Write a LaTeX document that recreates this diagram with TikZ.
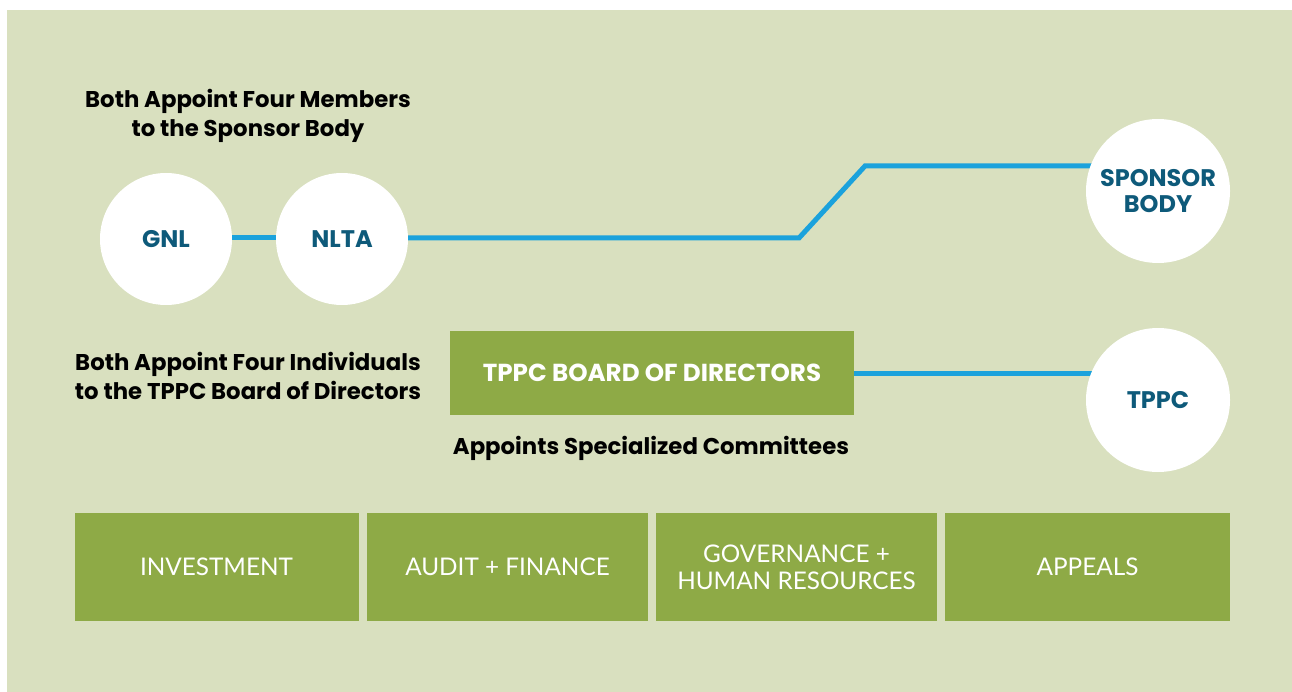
\documentclass[tikz,border=0pt]{standalone}
\usepackage{fontspec}
\setmainfont{Poppins}
\newfontfamily\lightfont{Lato}
\definecolor{bgc}{HTML}{D9E0BF}
\definecolor{boxg}{HTML}{8EAA46}
\definecolor{lineb}{HTML}{1BA2DC}
\definecolor{navy}{HTML}{0E5A7A}
\pgfdeclarelayer{back}
\pgfdeclarelayer{lines}
\pgfsetlayers{back,lines,main}
\begin{document}
\begin{tikzpicture}[x=1pt,y=-1pt,
  circ/.style={circle,fill=white,inner sep=0pt,minimum size=#1,font=\bfseries\fontsize{24}{26}\selectfont,text=navy,align=center},
  label/.style={font=\bfseries\fontsize{22.8}{29}\selectfont,text=black,align=center,inner sep=0pt},
  board/.style={fill=boxg,text=white,font=\bfseries\fontsize{24.6}{24}\selectfont,inner sep=0pt,minimum width=404pt,minimum height=84pt},
  comm/.style={fill=boxg,text=white,font=\lightfont\fontsize{24.3}{27}\selectfont,inner sep=0pt,minimum height=108pt,align=center},
  conn/.style={draw=lineb,line width=5pt}]
\useasboundingbox (0,0) rectangle (1292,692);
\begin{pgfonlayer}{back}
\fill[bgc] (7,10) rectangle (1292,692);
\end{pgfonlayer}
\node[circ=132pt] (gnl) at (166,239) {GNL};
\node[circ=132pt] (nlta) at (342,239) {NLTA};
\node[circ=144pt] (sponsor) at (1158,191) {SPONSOR\\BODY};
\node[circ=144pt] (tppc) at (1158,400) {TPPC};
\node[board] (board) at (652,373) {TPPC BOARD OF DIRECTORS};
\node[label] (lab1) at (248,116) {Both Appoint Four Members\\to the Sponsor Body};
\node[label] (lab2) at (248,376) {Both Appoint Four Individuals\\to the TPPC Board of Directors};
\node[label] (lab3) at (651,448) {Appoints Specialized Committees};
\node[comm,minimum width=284pt] (inv) at (216.5,567) {INVESTMENT};
\node[comm,minimum width=281pt] (aud) at (507.5,567) {AUDIT + FINANCE};
\node[comm,minimum width=281pt] (gov) at (796.5,567) {GOVERNANCE +\\HUMAN RESOURCES};
\node[comm,minimum width=285pt] (app) at (1087.5,567) {APPEALS};
\coordinate (b1) at (799,238);
\coordinate (b2) at (865,166);
\begin{pgfonlayer}{lines}
\draw[conn] (gnl.center |- b1) -- (nlta.center |- b1);
\draw[conn] (nlta.center |- b1) -- (b1) -- (b2) -- (b2 -| sponsor.center);
\draw[conn] (board.east) -- (board.east -| tppc.center);
\end{pgfonlayer}
\end{tikzpicture}
\end{document}
